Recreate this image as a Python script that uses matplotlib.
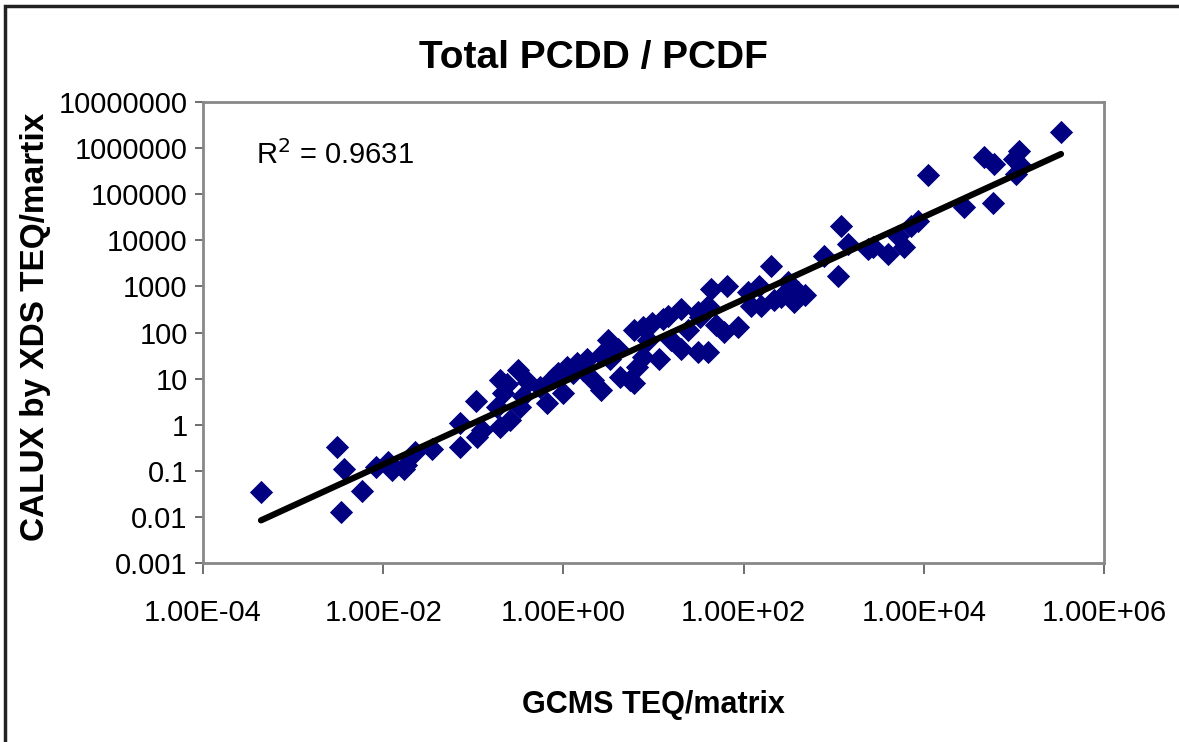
import numpy as np
import matplotlib
matplotlib.use("Agg")
import matplotlib.pyplot as plt
from matplotlib.patches import Rectangle
from matplotlib.ticker import NullLocator

# GCMS TEQ/matrix (x) vs CALUX by XDS TEQ/matrix (y)
gcms = [4.4e-4, 3.1e-3, 3.4e-3, 3.7e-3, 5.8e-3, 8.4e-3, 0.0114, 0.0126, 0.0171, 0.018,
        0.0227, 0.035, 0.072, 0.072, 0.108, 0.111, 0.126, 0.185, 0.2, 0.2,
        0.215, 0.239, 0.258, 0.31, 0.33, 0.36, 0.4, 0.555, 0.66, 0.77,
        0.86, 1.0, 1.1, 1.29, 1.43, 1.67, 1.85, 2.15, 2.6, 2.6,
        3.1, 3.3, 4.0, 4.3, 5.5, 6.0, 6.0, 6.6, 7.7, 7.7,
        8.6, 9.7, 11.4, 12.9, 14.3, 15.5, 20, 20, 24, 31,
        31, 33, 40, 40, 43, 49, 60, 66, 86, 111,
        120, 147, 155, 200, 215, 258, 308, 360, 400, 476,
        774, 1110, 1200, 1430, 2390, 2710, 3980, 5140, 6000, 7170,
        8580, 11100, 27800, 46400, 58400, 60000, 100000, 105000, 114000, 120000,
        333000]
calux = [0.035, 0.33, 0.013, 0.11, 0.037, 0.122, 0.157, 0.105, 0.11, 0.135,
         0.26, 0.30, 1.1, 0.33, 3.3, 0.55, 0.78, 2.46, 9.5, 0.9,
         5.0, 7.8, 1.28, 15.7, 2.46, 4.1, 8.6, 6.7, 3.0, 10.5,
         13.5, 5.0, 18, 13.5, 22, 15.7, 26, 9.5, 5.8, 33,
         70, 26, 43, 11, 9.5, 116, 8.2, 18, 135, 30,
         70, 165, 26, 192, 223, 70, 316, 43, 116, 272,
         37, 212, 37, 367, 860, 149, 105, 1000, 135, 740,
         367, 1000, 367, 2720, 520, 600, 1220, 450, 740, 640,
         4500, 1650, 20000, 8200, 6370, 7050, 4960, 12200, 7050, 20000,
         25900, 259000, 52100, 637000, 63700, 449000, 577000, 272000, 861000, 406000,
         2230000]

x_ticks = [1e-4, 1e-2, 1e0, 1e2, 1e4, 1e6]
x_tick_labels = ["1.00E-04", "1.00E-02", "1.00E+00", "1.00E+02", "1.00E+04", "1.00E+06"]
y_ticks = [1e-3, 1e-2, 1e-1, 1e0, 1e1, 1e2, 1e3, 1e4, 1e5, 1e6, 1e7]
y_tick_labels = ["0.001", "0.01", "0.1", "1", "10", "100", "1000", "10000",
                 "100000", "1000000", "10000000"]

plt.rcParams["font.family"] = ["Liberation Sans", "DejaVu Sans"]

fig = plt.figure(figsize=(11.79, 7.42), dpi=100)
ax = fig.add_axes([0.1722, 0.2412, 0.7642, 0.6213])

ax.scatter(gcms, calux, marker="D", s=140, color="#000080", linewidths=0, zorder=3)

# power trendline, fitted in log space (Excel style)
lx = np.log10(gcms)
ly = np.log10(calux)
slope, icpt = np.polyfit(lx, ly, 1)
fit_x = np.array([min(gcms), max(gcms)])
fit_y = 10 ** (icpt + slope * np.log10(fit_x))
ax.plot(fit_x, fit_y, color="black", lw=4.5, solid_capstyle="round", zorder=4)

ax.set_xscale("log")
ax.set_yscale("log")
ax.set_xlim(1e-4, 1e6)
ax.set_ylim(1e-3, 1e7)

ax.set_xticks(x_ticks, x_tick_labels)
ax.set_yticks(y_ticks, y_tick_labels)
ax.xaxis.set_minor_locator(NullLocator())
ax.yaxis.set_minor_locator(NullLocator())

ax.tick_params(axis="x", length=8, width=1.2, color="#555555", labelsize=21, pad=18)
ax.tick_params(axis="y", length=6, width=1.2, color="#555555", labelsize=21, pad=5)

for s in ax.spines.values():
    s.set_color("#888888")
    s.set_linewidth(2)

ax.text(0.059, 0.885, "R$^2$ = 0.9631", transform=ax.transAxes, fontsize=21,
        va="center", ha="left")

fig.text(0.503, 0.922, "Total PCDD / PCDF", fontsize=28, fontweight="bold",
         ha="center", va="center")
fig.text(0.554, 0.050, "GCMS TEQ/matrix", fontsize=22, fontweight="bold",
         ha="center", va="center")
fig.text(0.030, 0.559, "CALUX by XDS TEQ/martix", fontsize=24, fontweight="bold",
         rotation=90, ha="center", va="center")

# outer chart frame (only top and left edges fall inside the picture)
fig.patches.append(Rectangle((5 / 1179, -0.1), 1.2, 1.1 - 6 / 742,
                             transform=fig.transFigure, fill=False,
                             edgecolor="#222222", lw=2.5))

fig.savefig("out.png", dpi=100)
